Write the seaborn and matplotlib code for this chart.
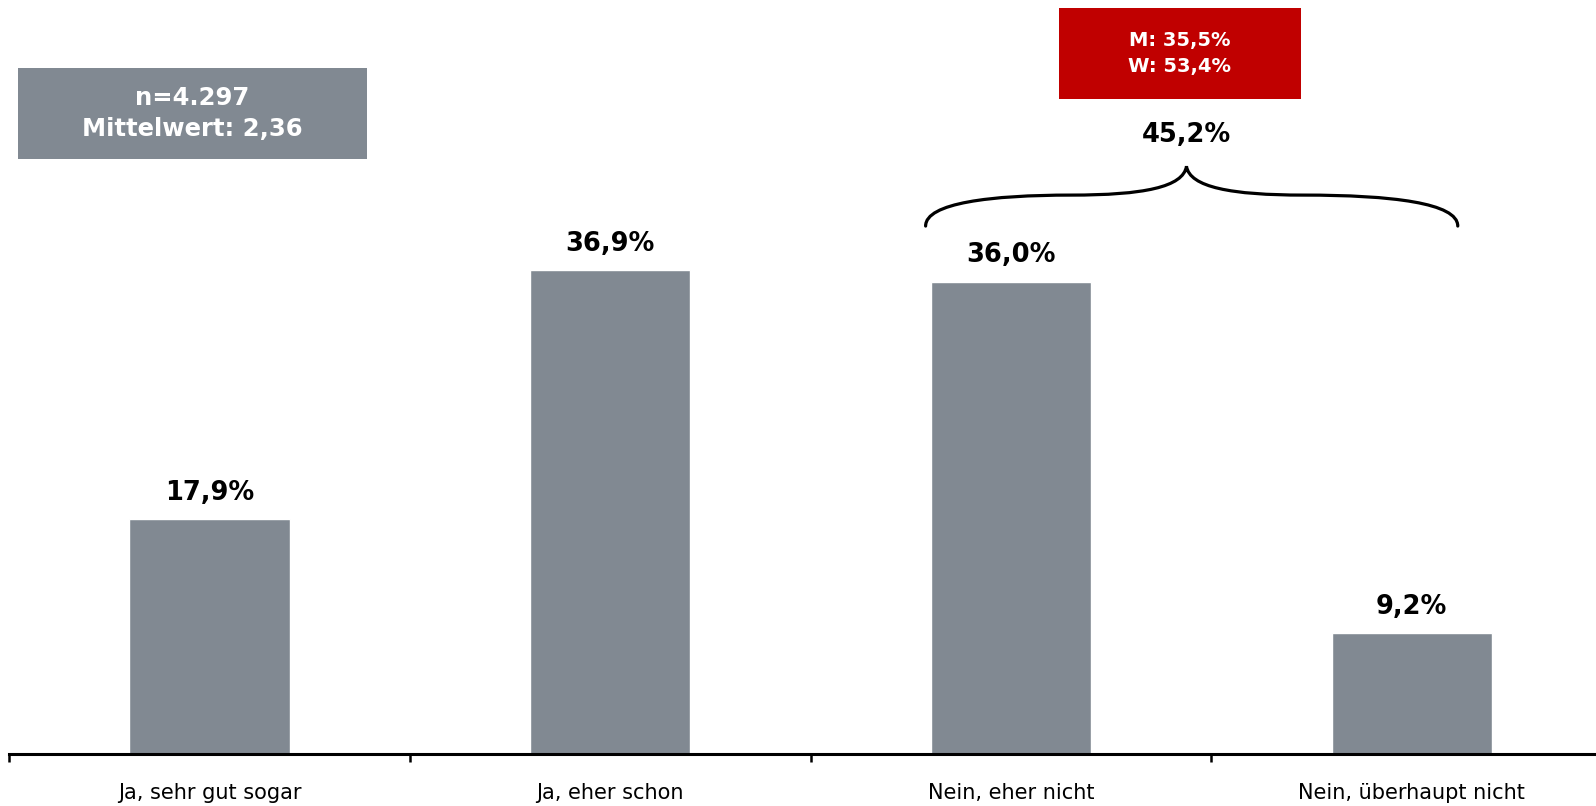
import numpy as np
import pandas as pd
import matplotlib
matplotlib.use("Agg")
import matplotlib.pyplot as plt
from matplotlib.patches import Rectangle, PathPatch
from matplotlib.path import Path
import seaborn as sns

# ── Data ─────────────────────────────────────────────────────────────────────
CATEGORIES = ["Ja, sehr gut sogar", "Ja, eher schon", "Nein, eher nicht", "Nein, überhaupt nicht"]
SHARES     = [17.9, 36.9, 36.0, 9.2]
VALUE_LABELS = ["17,9%", "36,9%", "36,0%", "9,2%"]
INFO_TEXT  = "n=4.297\nMittelwert: 2,36"
GENDER_TEXT = "M: 35,5%\nW: 53,4%"
BRACE_LABEL = "45,2%"

GREY = "#818992"
RED  = "#C00000"

df = pd.DataFrame({"cat": CATEGORIES, "val": SHARES})

# ── Figure ───────────────────────────────────────────────────────────────────
sns.set_style("white")
plt.rcParams["font.family"] = ["DejaVu Sans"]

fig = plt.figure(figsize=(15.96, 8.06), dpi=100)
ax = fig.add_axes([9.2 / 1596, 52 / 806, 1 - 9.2 / 1596, 754 / 806])

sns.barplot(data=df, x="cat", y="val", color=GREY, width=0.4,
            saturation=1, ax=ax)

ax.set_xlim(-0.5, 3.46)
ax.set_ylim(0, 57.47)
ax.set_xlabel("")
ax.set_ylabel("")
ax.set_yticks([])
for s in ("top", "right", "left"):
    ax.spines[s].set_visible(False)
ax.spines["bottom"].set_linewidth(2.2)
ax.spines["bottom"].set_color("black")

# boundary ticks + category labels as minor ticks
ax.set_xticks([-0.5, 0.5, 1.5, 2.5])
ax.set_xticklabels([])
ax.tick_params(axis="x", which="major", direction="out", length=6, width=1.8,
               bottom=True, color="black")
ax.set_xticks([0, 1, 2, 3], minor=True)
ax.set_xticklabels(CATEGORIES, minor=True, fontsize=15, color="black")
ax.tick_params(axis="x", which="minor", length=0, pad=21)

# value labels
for i, (v, lab) in enumerate(zip(SHARES, VALUE_LABELS)):
    ax.text(i, v + 2.0, lab, ha="center", va="center",
            fontsize=18.5, fontweight="bold", color="black")

# info box (left)
ax.add_patch(Rectangle((-0.477, 45.37), 0.869, 6.9, facecolor=GREY,
                       edgecolor="none", clip_on=False))
ax.text(-0.477 + 0.869 / 2, 45.37 + 3.45, INFO_TEXT, ha="center", va="center",
        color="white", fontsize=17.5, fontweight="bold", linespacing=1.38)

# gender box (red)
ax.add_patch(Rectangle((2.119, 49.95), 0.605, 6.9, facecolor=RED,
                       edgecolor="none", clip_on=False))
ax.text(2.119 + 0.605 / 2, 49.95 + 3.45, GENDER_TEXT, ha="center", va="center",
        color="white", fontsize=14, fontweight="bold", linespacing=1.45)

# curly brace over the two "Nein" bars
verts = [
    (1.787, 40.24),
    (1.787, 42.0), (1.95, 42.6), (2.15, 42.6),
    (2.33, 42.6), (2.43, 43.2), (2.438, 44.8),
    (2.446, 43.2), (2.55, 42.6), (2.73, 42.6),
    (2.95, 42.6), (3.115, 42.0), (3.115, 40.24),
]
codes = [Path.MOVETO] + [Path.CURVE4] * 12
ax.add_patch(PathPatch(Path(verts, codes), facecolor="none", edgecolor="black",
                       linewidth=2.3, clip_on=False, capstyle="round"))
ax.text(2.438, 47.2, BRACE_LABEL, ha="center", va="center",
        fontsize=18.5, fontweight="bold", color="black")

fig.savefig("out.png", dpi=100)
